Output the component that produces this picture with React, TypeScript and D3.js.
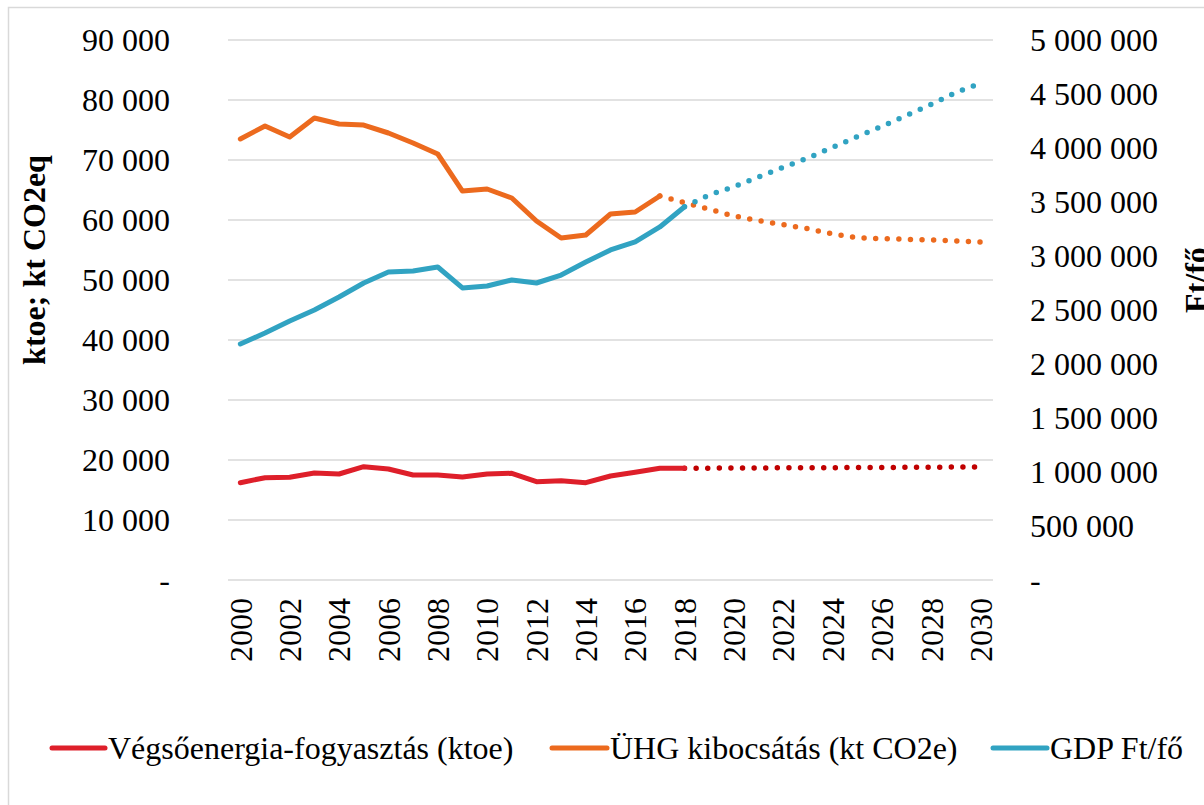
import React from "react";
import * as d3 from "d3";

const years: number[] = d3.range(2000, 2031);

// Végsőenergia-fogyasztás (ktoe), left axis
const energyYears = [2000, 2001, 2002, 2003, 2004, 2005, 2006, 2007, 2008, 2009, 2010, 2011, 2012, 2013, 2014, 2015, 2016, 2017, 2018];
const energyValues = [16220, 17050, 17120, 17830, 17670, 18880, 18500, 17500, 17500, 17170, 17670, 17780, 16380, 16550, 16220, 17330, 17950, 18620, 18620];
const energyProjYears = [2018, 2019, 2020, 2021, 2022, 2023, 2024, 2025, 2026, 2027, 2028, 2029, 2030];
const energyProjValues = [18620, 18640, 18660, 18680, 18700, 18710, 18720, 18740, 18760, 18780, 18800, 18820, 18840];

// ÜHG kibocsátás (kt CO2e), left axis
const ghgYears = [2000, 2001, 2002, 2003, 2004, 2005, 2006, 2007, 2008, 2009, 2010, 2011, 2012, 2013, 2014, 2015, 2016, 2017];
const ghgValues = [73500, 75670, 73830, 77000, 76000, 75830, 74500, 72830, 71000, 64830, 65170, 63670, 59830, 57000, 57500, 61000, 61330, 64000];
const ghgProjYears = [2017, 2018, 2019, 2020, 2021, 2022, 2023, 2024, 2025, 2026, 2027, 2028, 2029, 2030];
const ghgProjValues = [64000, 62890, 61780, 60670, 59890, 59220, 58560, 57670, 57060, 56890, 56780, 56670, 56500, 56330];

// GDP Ft/fő, right axis
const gdpYears = [2000, 2001, 2002, 2003, 2004, 2005, 2006, 2007, 2008, 2009, 2010, 2011, 2012, 2013, 2014, 2015, 2016, 2017, 2018];
const gdpValues = [2185000, 2287000, 2398000, 2500000, 2620000, 2750000, 2852000, 2861000, 2898000, 2704000, 2722000, 2778000, 2750000, 2824000, 2944000, 3056000, 3130000, 3269000, 3456000];
const gdpProjYears = [2018, 2019, 2020, 2021, 2022, 2023, 2024, 2025, 2026, 2027, 2028, 2029, 2030];
const gdpProjValues = [3456000, 3565000, 3642000, 3731000, 3821000, 3907000, 4006000, 4105000, 4201000, 4302000, 4404000, 4515000, 4599000];

const leftTicks = [0, 10000, 20000, 30000, 40000, 50000, 60000, 70000, 80000, 90000];
const rightTicks = [0, 500000, 1000000, 1500000, 2000000, 2500000, 3000000, 3500000, 4000000, 4500000, 5000000];
const xTickYears = years.filter((y) => y % 2 === 0);

const seriesNames = ["Végsőenergia-fogyasztás (ktoe)", "ÜHG kibocsátás (kt CO2e)", "GDP Ft/fő"];
const leftTitle = "ktoe; kt CO2eq";
const rightTitle = "Ft/fő";

const RED = "#DE1F2A";
const RED_DOT = "#C00000";
const ORANGE = "#EC6A1E";
const BLUE = "#31A3C2";
const GRID = "#D9D9D9";
const FONT = "'Liberation Serif', 'Times New Roman', serif";

const fmt = (v: number) => (v === 0 ? "-" : d3.format(",")(v).replace(/,/g, " "));

export default function App() {
  const W = 1204;
  const H = 805;
  const plotL = 228;
  const plotR = 993;
  const plotT = 40;
  const plotB = 580;

  const x = d3.scaleBand<number>().domain(years).range([plotL, plotR]).padding(0);
  const cx = (yr: number) => (x(yr) as number) + x.bandwidth() / 2;
  const yL = d3.scaleLinear().domain([0, 90000]).range([plotB, plotT]);
  const yR = d3.scaleLinear().domain([0, 5000000]).range([plotB, plotT]);

  const mk = (yrs: number[], vals: number[], ys: d3.ScaleLinear<number, number>) =>
    d3.line<number>().x((_, i) => cx(yrs[i])).y((v) => ys(v))(vals) || "";

  const solid = { fill: "none", strokeWidth: 5, strokeLinejoin: "round" as const, strokeLinecap: "round" as const };
  const dotted = { fill: "none", strokeWidth: 5.5, strokeLinecap: "round" as const, strokeDasharray: "0 11.6" };

  const legendItems = [
    { color: RED, x1: 52, x2: 105, tx: 108, label: seriesNames[0] },
    { color: ORANGE, x1: 552, x2: 607, tx: 610, label: seriesNames[1] },
    { color: BLUE, x1: 993, x2: 1047, tx: 1050, label: seriesNames[2] },
  ];

  return (
    <svg
      width={W}
      height={H}
      style={{ position: "absolute", left: 0, top: 0, background: "#fff" }}
      fontFamily={FONT}
    >
      <rect x={0} y={0} width={W} height={H} fill="#fff" />
      <rect x={8.5} y={7.5} width={W + 20} height={H + 20} fill="none" stroke={GRID} strokeWidth={1.5} />

      {leftTicks.map((t) => (
        <line key={"g" + t} x1={plotL} x2={plotR} y1={yL(t)} y2={yL(t)} stroke={GRID} strokeWidth={1.5} />
      ))}

      {leftTicks.map((t) => (
        <text key={"l" + t} x={170} y={yL(t)} dy="0.35em" textAnchor="end" fontSize={32} fill="#000">
          {fmt(t)}
        </text>
      ))}
      {rightTicks.map((t) => (
        <text key={"r" + t} x={1030} y={yR(t)} dy="0.35em" textAnchor="start" fontSize={32} fill="#000">
          {fmt(t)}
        </text>
      ))}

      {xTickYears.map((yr) => (
        <text
          key={"x" + yr}
          transform={`translate(${cx(yr)},598) rotate(-90)`}
          dy="0.35em"
          textAnchor="end"
          fontSize={32}
          fill="#000"
        >
          {yr}
        </text>
      ))}

      <text transform={`translate(45,260) rotate(-90)`} textAnchor="middle" fontSize={32} fontWeight="bold" fill="#000">
        {leftTitle}
      </text>
      <text transform={`translate(1207,280) rotate(-90)`} textAnchor="middle" fontSize={32} fontWeight="bold" fill="#000">
        {rightTitle}
      </text>

      <path d={mk(energyProjYears, energyProjValues, yL)} stroke={RED_DOT} {...dotted} />
      <path d={mk(ghgProjYears, ghgProjValues, yL)} stroke={ORANGE} {...dotted} />
      <path d={mk(gdpProjYears, gdpProjValues, yR)} stroke={BLUE} {...dotted} />

      <path d={mk(energyYears, energyValues, yL)} stroke={RED} {...solid} />
      <path d={mk(ghgYears, ghgValues, yL)} stroke={ORANGE} {...solid} />
      <path d={mk(gdpYears, gdpValues, yR)} stroke={BLUE} {...solid} />

      {legendItems.map((it) => (
        <g key={it.label}>
          <line x1={it.x1} x2={it.x2} y1={748} y2={748} stroke={it.color} strokeWidth={5} strokeLinecap="round" />
          <text x={it.tx} y={748} dy="0.35em" fontSize={32} fill="#000">
            {it.label}
          </text>
        </g>
      ))}
    </svg>
  );
}
